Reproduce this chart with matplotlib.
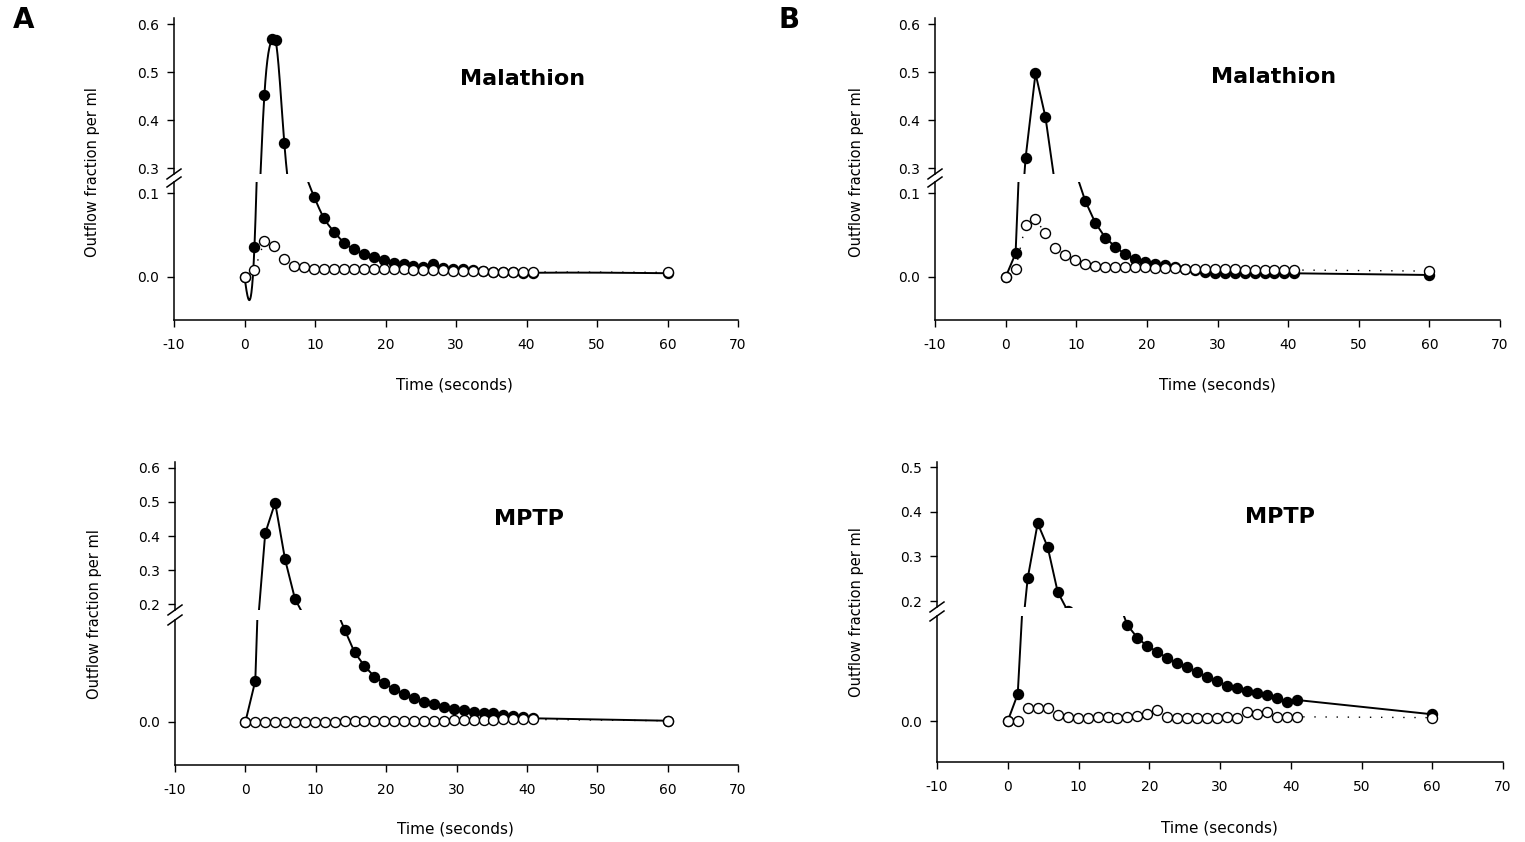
import numpy as np
import matplotlib
matplotlib.use("Agg")
import matplotlib.pyplot as plt
from matplotlib.lines import Line2D

plt.rcParams['font.family'] = ['DejaVu Sans']

# ---------------- data ----------------
t_grid = [0.0, 1.41, 2.82, 4.23, 5.64, 7.05, 8.46, 9.87, 11.28, 12.69, 14.1, 15.51,
          16.92, 18.33, 19.74, 21.15, 22.56, 23.97, 25.38, 26.79, 28.2, 29.61, 31.02,
          32.43, 33.84, 35.25, 36.66, 38.07, 39.48, 40.89, 60.0]

# Panel A, Malathion (filled series has a doubled peak sample)
tA_mal_filled = [0.0, 1.41, 2.82, 3.9, 4.4, 5.64, 7.05, 8.46, 9.87, 11.28, 12.69, 14.1, 15.51,
                 16.92, 18.33, 19.74, 21.15, 22.56, 23.97, 25.38, 26.79, 28.2, 29.61, 31.02,
                 32.43, 33.84, 35.25, 36.66, 38.07, 39.48, 40.89, 60.0]
A_mal_filled = [0.0, 0.036, 0.452, 0.568, 0.566, 0.353, 0.19, 0.128, 0.0956, 0.070, 0.054, 0.041,
                0.033, 0.027, 0.0235, 0.020, 0.017, 0.015, 0.0135, 0.012, 0.015, 0.011, 0.010,
                0.009, 0.008, 0.0072, 0.0065, 0.006, 0.0055, 0.005, 0.005, 0.0045]
A_mal_open = [0.0, 0.008, 0.043, 0.037, 0.021, 0.013, 0.0115, 0.0095, 0.009, 0.009, 0.009, 0.009,
              0.009, 0.009, 0.009, 0.009, 0.009, 0.0085, 0.008, 0.008, 0.0078, 0.0075, 0.007,
              0.007, 0.0068, 0.0065, 0.006, 0.006, 0.006, 0.006, 0.0055]

# Panel B, Malathion
B_mal_filled = [0.0, 0.028, 0.320, 0.497, 0.406, 0.26, 0.18, 0.126, 0.0905, 0.0646, 0.047, 0.036,
                0.027, 0.021, 0.018, 0.0155, 0.0143, 0.012, 0.010, 0.008, 0.006, 0.005, 0.0045,
                0.0044, 0.0044, 0.0044, 0.0044, 0.0044, 0.0044, 0.0044, 0.0024]
B_mal_open = [0.0, 0.0095, 0.062, 0.0687, 0.052, 0.035, 0.026, 0.020, 0.016, 0.0135, 0.012, 0.0115,
              0.0115, 0.0115, 0.0115, 0.011, 0.011, 0.0105, 0.010, 0.0095, 0.0095, 0.009, 0.009,
              0.009, 0.0088, 0.0087, 0.0085, 0.0085, 0.0083, 0.0083, 0.007]

# Panel A, MPTP
A_mptp_filled = [0.0, 0.049, 0.408, 0.498, 0.331, 0.215, 0.16, 0.15, 0.145, 0.138, 0.110, 0.083,
                 0.0667, 0.054, 0.046, 0.039, 0.033, 0.028, 0.024, 0.021, 0.018, 0.016, 0.014,
                 0.012, 0.011, 0.0103, 0.0087, 0.0067, 0.0056, 0.0044, 0.0015]
A_mptp_open = [0.0, 0.0, 0.0, 0.0, 0.0, 0.0, 0.0, 0.0, 0.0, 0.0, 0.0015, 0.0015,
               0.0015, 0.0015, 0.0015, 0.0015, 0.0015, 0.0015, 0.0015, 0.0015, 0.0015, 0.002, 0.002,
               0.002, 0.002, 0.002, 0.003, 0.003, 0.003, 0.003, 0.0015]

# Panel B, MPTP
B_mptp_filled = [0.0, 0.032, 0.251, 0.374, 0.321, 0.221, 0.178, 0.17, 0.165, 0.16, 0.153, 0.145,
                 0.114, 0.099, 0.089, 0.0825, 0.0746, 0.0687, 0.064, 0.0587, 0.052, 0.0476, 0.042,
                 0.0397, 0.036, 0.0337, 0.031, 0.0278, 0.023, 0.025, 0.008]
B_mptp_open = [0.0, 0.0, 0.015, 0.016, 0.016, 0.007, 0.005, 0.004, 0.004, 0.005, 0.005, 0.004,
               0.005, 0.006, 0.008, 0.013, 0.005, 0.004, 0.003, 0.004, 0.004, 0.004, 0.005,
               0.004, 0.011, 0.008, 0.011, 0.005, 0.005, 0.005, 0.004]

x_ticks = [-10, 0, 10, 20, 30, 40, 50, 60, 70]

W, H = 1525, 842
fig = plt.figure(figsize=(W / 100, H / 100), dpi=100)


def natural_spline(x, y, xs):
    x = np.asarray(x, float)
    y = np.asarray(y, float)
    n = len(x)
    h = np.diff(x)
    A = np.zeros((n, n))
    b = np.zeros(n)
    A[0, 0] = 1
    A[-1, -1] = 1
    for i in range(1, n - 1):
        A[i, i - 1] = h[i - 1]
        A[i, i] = 2 * (h[i - 1] + h[i])
        A[i, i + 1] = h[i]
        b[i] = 6 * ((y[i + 1] - y[i]) / h[i] - (y[i] - y[i - 1]) / h[i - 1])
    M = np.linalg.solve(A, b)
    idx = np.clip(np.searchsorted(x, xs) - 1, 0, n - 2)
    x0, x1 = x[idx], x[idx + 1]
    hh = x1 - x0
    a = (x1 - xs) / hh
    c = (xs - x0) / hh
    return (a * y[idx] + c * y[idx + 1]
            + ((a ** 3 - a) * M[idx] + (c ** 3 - c) * M[idx + 1]) * hh ** 2 / 6)


def fx(x):
    return x / W


def fy(y):
    return 1 - y / H


def panel(xl, xr, up_top, up_bot, lo_top, lo_bot, up_lim, lo_lim, up_ticks, lo_ticks,
          t_f, v_f, t_o, v_o, spline=False):
    ax_lo = fig.add_axes([fx(xl), fy(lo_bot), fx(xr) - fx(xl), fy(lo_top) - fy(lo_bot)])
    ax_up = fig.add_axes([fx(xl), fy(up_bot), fx(xr) - fx(xl), fy(up_top) - fy(up_bot)],
                         sharex=ax_lo)
    for ax in (ax_lo, ax_up):
        ax.set_facecolor('none')
        ax.spines['right'].set_visible(False)
        ax.spines['top'].set_visible(False)
        for s in ax.spines.values():
            s.set_linewidth(1.1)
        ax.tick_params(axis='both', direction='out', length=5, width=1.0,
                       labelsize=10, colors='black', pad=6)
        if spline:
            xs = np.linspace(0, 60, 3000)
            ax.plot(xs, natural_spline(t_f, v_f, xs), color='black', lw=1.4, zorder=3)
            ax.plot(t_f, v_f, linestyle='none', marker='o', ms=7.2, mfc='black',
                    mec='black', zorder=4)
        else:
            ax.plot(t_f, v_f, color='black', lw=1.4, marker='o', ms=7.2, mfc='black',
                    mec='black', zorder=3)
        ax.plot(t_o, v_o, color='black', lw=1.0, linestyle=(0, (1, 7)), marker='o', ms=7.2,
                mfc='white', mec='black', mew=1.0, zorder=5)
    ax_up.spines['bottom'].set_visible(False)
    ax_up.tick_params(axis='x', bottom=False, labelbottom=False)
    ax_lo.set_xlim(-10, 70)
    ax_lo.set_xticks(x_ticks)
    ax_lo.set_xticklabels([str(v) for v in x_ticks])
    ax_lo.tick_params(axis='x', pad=8)
    ax_lo.set_ylim(*lo_lim)
    ax_up.set_ylim(*up_lim)
    ax_lo.set_yticks(lo_ticks)
    ax_lo.set_yticklabels(['%.1f' % v for v in lo_ticks])
    ax_up.set_yticks(up_ticks)
    ax_up.set_yticklabels(['%.1f' % v for v in up_ticks])
    # break marks
    for yy in (up_bot, lo_top):
        fig.add_artist(Line2D([fx(xl - 7), fx(xl + 7)], [fy(yy + 5), fy(yy - 5)],
                              color='black', lw=1.1))
    return ax_lo, ax_up


# Panel A top (Malathion)
panel(174, 738, 18, 174, 182, 320, (0.2875, 0.6125), (-0.0512, 0.1131),
      [0.3, 0.4, 0.5, 0.6], [0.0, 0.1], tA_mal_filled, A_mal_filled, t_grid, A_mal_open,
      spline=True)
# Panel B top (Malathion)
panel(935, 1500, 18, 174, 182, 320, (0.2875, 0.6125), (-0.0512, 0.1131),
      [0.3, 0.4, 0.5, 0.6], [0.0, 0.1], t_grid, B_mal_filled, t_grid, B_mal_open)
# Panel A bottom (MPTP)
panel(175, 738, 462, 610, 620, 765, (0.1824, 0.6176), (-0.0512, 0.1214),
      [0.2, 0.3, 0.4, 0.5, 0.6], [0.0], t_grid, A_mptp_filled, t_grid, A_mptp_open)
# Panel B bottom (MPTP)
panel(937, 1503, 462, 607, 616, 762, (0.1866, 0.5112), (-0.0488, 0.125),
      [0.2, 0.3, 0.4, 0.5], [0.0], t_grid, B_mptp_filled, t_grid, B_mptp_open)

# texts
fig.text(fx(24), fy(20), 'A', fontsize=20, fontweight='bold', ha='center', va='center')
fig.text(fx(789), fy(20), 'B', fontsize=20, fontweight='bold', ha='center', va='center')

fig.text(fx(523), fy(79), 'Malathion', fontsize=16, fontweight='bold', ha='center', va='center')
fig.text(fx(1274), fy(77), 'Malathion', fontsize=16, fontweight='bold', ha='center', va='center')
fig.text(fx(529), fy(519), 'MPTP', fontsize=16, fontweight='bold', ha='center', va='center')
fig.text(fx(1280), fy(517), 'MPTP', fontsize=16, fontweight='bold', ha='center', va='center')

for (x, y) in [(454, 385), (1217, 385), (455, 829), (1219, 828)]:
    fig.text(fx(x), fy(y), 'Time (seconds)', fontsize=11, ha='center', va='center')
for (x, y) in [(92, 172), (856, 172), (94, 614), (857, 612)]:
    fig.text(fx(x), fy(y), 'Outflow fraction per ml', fontsize=10.5, rotation=90,
             ha='center', va='center')

fig.savefig('out.png', dpi=100)
